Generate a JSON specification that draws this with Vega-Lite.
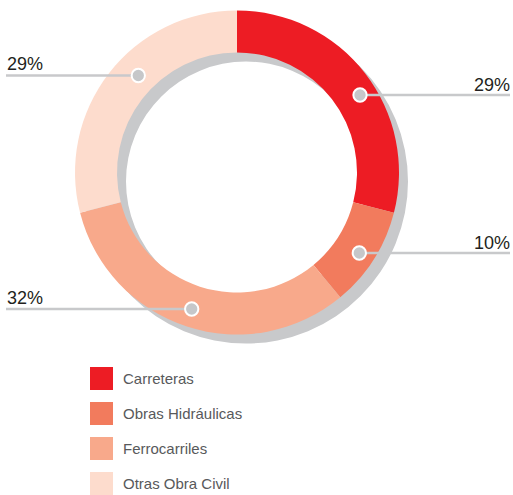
{
  "$schema": "https://vega.github.io/schema/vega-lite/v6.json",
  "width": 513,
  "height": 495,
  "padding": 0,
  "autosize": {"type": "fit", "contains": "padding"},
  "background": "white",
  "config": {"view": {"stroke": null}},
  "datasets": {
    "shares": [
      {"cat": "Carreteras", "pct": 29, "o": 1, "lx": 0.7593, "ly": 0.4784, "ex": 1.6852, "side": "right", "label": "29%"},
      {"cat": "Obras Hidráulicas", "pct": 10, "o": 2, "lx": 0.7549, "ly": -0.4969, "ex": 1.6852, "side": "right", "label": "10%"},
      {"cat": "Ferrocarriles", "pct": 32, "o": 3, "lx": -0.2796, "ly": -0.8426, "ex": -1.4259, "side": "left", "label": "32%"},
      {"cat": "Otras Obra Civil", "pct": 29, "o": 4, "lx": -0.6093, "ly": 0.5988, "ex": -1.4259, "side": "left", "label": "29%"}
    ]
  },
  "data": {"name": "shares"},
  "resolve": {"scale": {"theta": "independent", "color": "independent"}},
  "layer": [
    {
      "data": {"values": [{"ring": 1}]},
      "mark": {"type": "arc", "radius": 162, "radius2": 120, "fill": "#c8c9cb", "xOffset": 9, "yOffset": 9},
      "encoding": {
        "theta": {"field": "ring", "type": "quantitative"},
        "x": {"datum": 0, "type": "quantitative", "scale": {"domain": [-1.46296, 1.7037], "nice": false, "zero": false}, "axis": null},
        "y": {"datum": 0, "type": "quantitative", "scale": {"domain": [-1.99074, 1.06481], "nice": false, "zero": false}, "axis": null}
      }
    },
    {
      "mark": {"type": "arc", "radius": 162, "radius2": 120},
      "encoding": {
        "theta": {"field": "pct", "type": "quantitative", "stack": true},
        "order": {"field": "o", "type": "quantitative"},
        "x": {"datum": 0, "type": "quantitative"},
        "y": {"datum": 0, "type": "quantitative"},
        "color": {
          "field": "cat",
          "type": "nominal",
          "scale": {
            "domain": ["Carreteras", "Obras Hidráulicas", "Ferrocarriles", "Otras Obra Civil"],
            "range": ["#ed1c24", "#f27b5d", "#f8a98b", "#fddccd"]
          },
          "legend": {
            "title": null,
            "orient": "none",
            "legendX": 90,
            "legendY": 367,
            "padding": 0,
            "symbolType": "square",
            "symbolSize": 529,
            "symbolStrokeWidth": 0,
            "symbolOpacity": 1,
            "rowPadding": 12,
            "labelOffset": 10,
            "labelFont": "Liberation Sans",
            "labelFontSize": 15,
            "labelColor": "#58595b",
            "labelLimit": 300
          }
        }
      }
    },
    {
      "mark": {"type": "rule", "stroke": "#c8c9cb", "strokeWidth": 2.5},
      "encoding": {
        "x": {"field": "lx", "type": "quantitative"},
        "x2": {"field": "ex"},
        "y": {"field": "ly", "type": "quantitative"}
      }
    },
    {
      "mark": {"type": "point", "filled": true, "fill": "#c6c7c9", "stroke": "white", "strokeWidth": 2, "size": 177, "opacity": 1, "strokeOpacity": 1},
      "encoding": {
        "x": {"field": "lx", "type": "quantitative"},
        "y": {"field": "ly", "type": "quantitative"}
      }
    },
    {
      "transform": [{"filter": "datum.side === 'right'"}],
      "mark": {"type": "text", "align": "right", "baseline": "alphabetic", "dy": -4, "font": "Liberation Sans", "fontSize": 18, "fill": "#231f20"},
      "encoding": {
        "x": {"field": "ex", "type": "quantitative"},
        "y": {"field": "ly", "type": "quantitative"},
        "text": {"field": "label"}
      }
    },
    {
      "transform": [{"filter": "datum.side === 'left'"}],
      "mark": {"type": "text", "align": "left", "baseline": "alphabetic", "dy": -5, "dx": 1, "font": "Liberation Sans", "fontSize": 18, "fill": "#231f20"},
      "encoding": {
        "x": {"field": "ex", "type": "quantitative"},
        "y": {"field": "ly", "type": "quantitative"},
        "text": {"field": "label"}
      }
    }
  ]
}
